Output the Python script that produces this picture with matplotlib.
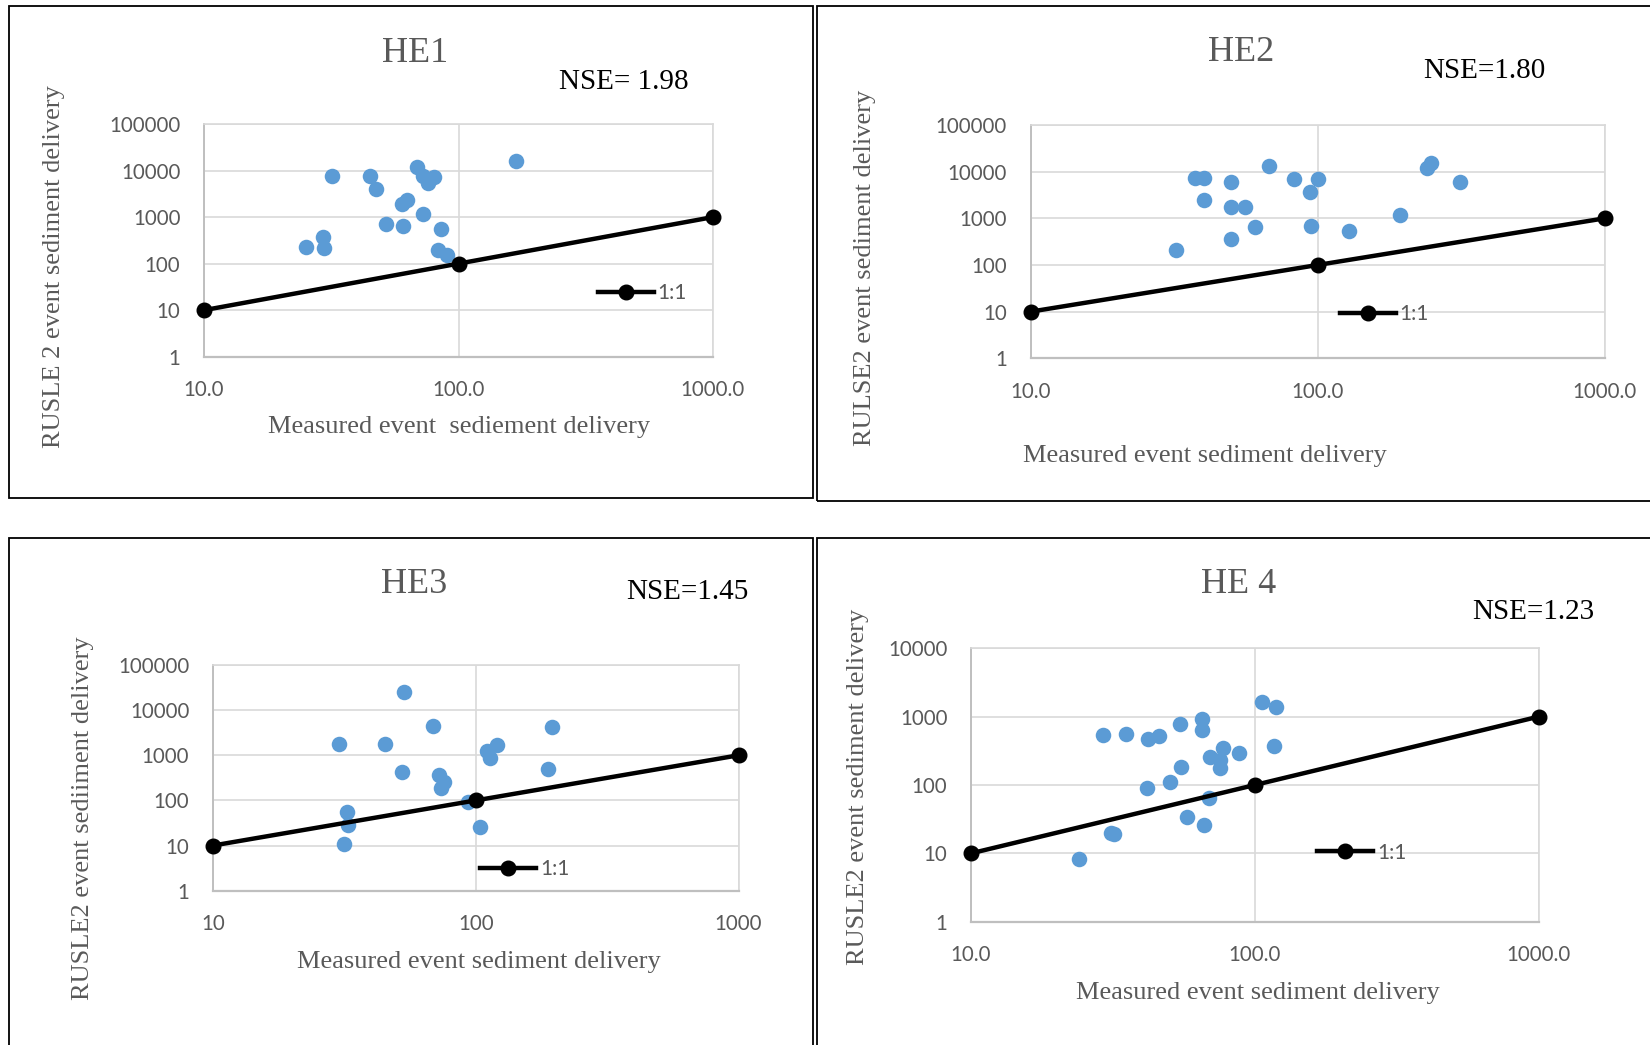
import matplotlib
matplotlib.use('Agg')
import matplotlib.pyplot as plt
from matplotlib.patches import Rectangle
from matplotlib.lines import Line2D

# measured vs RUSLE2 event sediment delivery
he1_meas = [25.2, 29.3, 29.7, 31.8, 45.1, 47.6, 51.9, 59.8, 62.8, 60.4,
            68.4, 72.3, 75.8, 80.2, 72.3, 85.0, 83.4, 90.3, 167.9]
he1_rusle = [231, 379, 220, 7760, 7625, 3945, 698, 1878, 2328, 643,
             12110, 7625, 5310, 7380, 1183, 563, 196, 151, 15770]

he2_meas = [32.0, 37.4, 40.1, 40.1, 50.0, 50.0, 55.7, 50.0, 60.4, 67.8,
            82.8, 94.2, 100.0, 95.0, 128.5, 194, 240, 248, 312]
he2_rusle = [210, 7440, 7200, 2430, 5910, 1778, 1778, 355, 663, 13220,
             6966, 3728, 6966, 697, 544, 1199, 12180, 15090, 6105]

he3_meas = [30.3, 45.0, 53.2, 52.5, 68.9, 72.8, 75.5, 73.8, 93.5, 32.3,
            32.7, 31.5, 103.5, 110, 113, 120.5, 195, 188]
he3_rusle = [1746, 1746, 25230, 433, 4450, 365, 260, 185, 93.7, 56.3,
             29.0, 10.6, 26.2, 1244, 855, 1689, 4303, 488]

he4_meas = [24.0, 29.1, 35.2, 42.2, 46.1, 54.6, 65.4, 64.9, 55.1, 41.8,
            50.1, 69.8, 77.1, 75.1, 75.1, 87.9, 69.0, 57.5, 66.1, 31.1,
            32.0, 106, 119, 117]
he4_rusle = [8.36, 539, 551, 466, 521, 781, 914, 638, 181, 91.4,
             109, 260, 344, 232, 175, 291, 63.8, 34.4, 26.0, 19.6,
             19.3, 1622, 1400, 376]

one_to_one = [10, 100, 1000]
x_ticks = [10, 100, 1000]
y_ticks5 = [1, 10, 100, 1000, 10000, 100000]
y_ticks4 = [1, 10, 100, 1000, 10000]

W, H = 1650, 1045
fig = plt.figure(figsize=(W/100, H/100), dpi=100)

def fx(px):
    return px / W

def fy(py):
    return 1 - py / H

serif = 'Liberation Serif'
sans = 'Lato'
gray = '#595959'

panels = [
    dict(meas=he1_meas, rus=he1_rusle, box=(204, 713, 124, 356.7), yt=y_ticks5, xfmt='{:.1f}',
         title='HE1', tpos=(414.6, 61.7),
         nse='NSE= 1.98', npos=(558.6, 89.3),
         xlab='Measured event  sediement delivery', xpos=(459, 433.3),
         ylab='RUSLE 2 event sediment delivery', ypos=(60.1, 266.7),
         leg=(0.7735, 0.2725)),
    dict(meas=he2_meas, rus=he2_rusle, box=(1030.7, 1604.7, 125, 358.3), yt=y_ticks5, xfmt='{:.1f}',
         title='HE2', tpos=(1241, 60.7),
         nse='NSE=1.80', npos=(1423.6, 78.3),
         xlab='Measured event sediment delivery', xpos=(1205, 461.7),
         ylab='RULSE2 event sediment delivery', ypos=(870.9, 268),
         leg=(0.538, 0.1886)),
    dict(meas=he3_meas, rus=he3_rusle, box=(212.9, 738.5, 665, 890.7), yt=y_ticks5, xfmt='{:.0f}',
         title='HE3', tpos=(414.5, 592.7),
         nse='NSE=1.45', npos=(626.6, 599),
         xlab='Measured event sediment delivery', xpos=(479.3, 968.3),
         ylab='RUSLE2 event sediiment delivery', ypos=(88.9, 818.3),
         leg=(0.5084, 0.0961)),
    dict(meas=he4_meas, rus=he4_rusle, box=(971, 1538.6, 648.3, 921.7), yt=y_ticks4, xfmt='{:.1f}',
         title='HE 4', tpos=(1239, 592.7),
         nse='NSE=1.23', npos=(1472.6, 619.3),
         xlab='Measured event sediment delivery', xpos=(1258, 999.3),
         ylab='RUSLE2 event sediment delivery', ypos=(864, 786.7),
         leg=(0.6096, 0.2524)),
]

for p in panels:
    x0, x1, y0, y1 = p['box']
    ax = fig.add_axes([fx(x0), fy(y1), (x1 - x0)/W, (y1 - y0)/H])
    ax.set_xscale('log')
    ax.set_yscale('log')
    ax.set_xlim(10, 1000)
    ax.set_ylim(p['yt'][0], p['yt'][-1])
    ax.set_xticks(x_ticks)
    ax.set_xticklabels([p['xfmt'].format(v) for v in x_ticks])
    ax.set_yticks(p['yt'])
    ax.set_yticklabels([str(v) for v in p['yt']])
    ax.minorticks_off()
    ax.tick_params(length=0, pad=17, labelsize=14.8, labelcolor=gray)
    for lab in ax.get_xticklabels() + ax.get_yticklabels():
        lab.set_fontfamily(sans)
    ax.grid(True, color='#d9d9d9', lw=1.2)
    ax.set_axisbelow(True)
    for s in ax.spines.values():
        s.set_color('#d9d9d9')
        s.set_linewidth(1.2)
    ax.spines['bottom'].set_color('#bfbfbf')
    ax.spines['bottom'].set_linewidth(1.6)
    ax.spines['left'].set_color('#bfbfbf')
    ax.spines['left'].set_linewidth(1.4)

    ax.scatter(p['meas'], p['rus'], s=125, color='#5B9BD5', zorder=3, linewidths=0)
    ln, = ax.plot(one_to_one, one_to_one, color='black', lw=3.2, marker='o', ms=10.5,
                  zorder=4, clip_on=False)
    leg = ax.legend([Line2D([], [], color='black', lw=3.2, marker='o', ms=10.5)], ['1:1'],
                    loc='center left', bbox_to_anchor=p['leg'], frameon=False,
                    handlelength=2.7, handletextpad=0.18, borderpad=0, borderaxespad=0,
                    prop={'family': sans, 'size': 15})
    for t in leg.get_texts():
        t.set_color(gray)

    fig.text(fx(p['tpos'][0]), fy(p['tpos'][1]), p['title'], ha='center', va='baseline',
             family=serif, size=26, color=gray)
    fig.text(fx(p['npos'][0]), fy(p['npos'][1]), p['nse'], ha='left', va='baseline',
             family=serif, size=21, color='black')
    fig.text(fx(p['xpos'][0]), fy(p['xpos'][1]), p['xlab'], ha='center', va='baseline',
             family=serif, size=19, color=gray)
    fig.text(fx(p['ypos'][0]), fy(p['ypos'][1]), p['ylab'], ha='center', va='baseline',
             rotation=90, rotation_mode='anchor', family=serif, size=19, color=gray)

# black frames round each chart
frames = [(8.5, 6, 813.3, 498), (816.5, 6, 1700, 501),
          (8.5, 538, 813, 1100), (816.5, 538, 1700, 1100)]
for (a, b, c, d) in frames:
    fig.add_artist(Rectangle((fx(a), fy(d)), (c - a)/W, (d - b)/H, transform=fig.transFigure,
                             fill=False, edgecolor='black', lw=1.3))

fig.savefig('out.png', dpi=100)
